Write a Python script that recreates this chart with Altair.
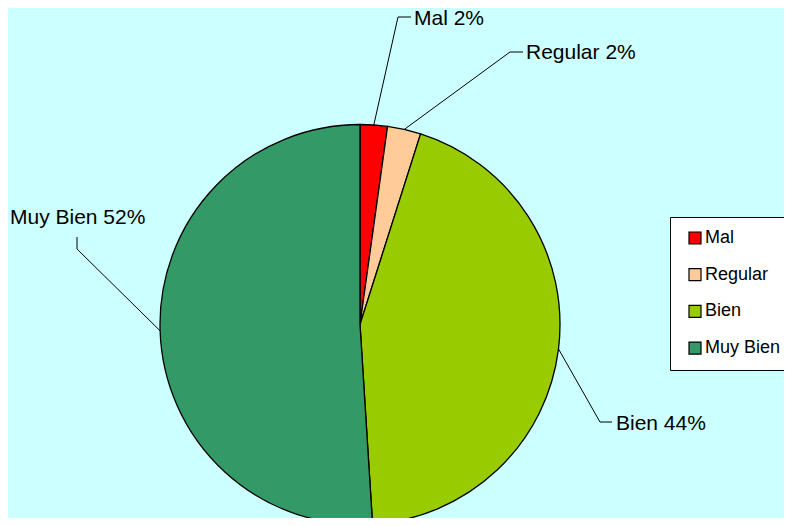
import math
import altair as alt
import pandas as pd

# ---- data ----
categories = ["Mal", "Regular", "Bien", "Muy Bien"]
values = [2.2, 2.7, 44.1, 51.0]
label_texts = ["Mal 2%", "Regular 2%", "Bien 44%", "Muy Bien 52%"]
colors = ["#FF0000", "#FFCC99", "#99CC00", "#339966"]

# ---- layout (chart pixel coords) ----
W, H = 776, 510
CX, CY, R = 352, 316.5, 200
elbows = [(390, 9), (502, 44), (592, 414), (69, 241)]
ends = [(403, 9), (515, 44), (604, 414), (69, 229)]
text_pos = [(406, 11), (518, 45), (608, 416), (2, 210)]

df = pd.DataFrame({"cat": categories, "val": values, "idx": range(len(categories))})

# leader lines: start on circle at slice mid-angle
total = sum(values)
rows = []
cum = 0.0
for i, (c, v) in enumerate(zip(categories, values)):
    mid = (cum + v / 2) / total * 2 * math.pi
    cum += v
    sx = CX + R * math.sin(mid)
    sy = CY - R * math.cos(mid)
    pts = [(sx, sy), elbows[i], ends[i]]
    for k, (px, py) in enumerate(pts):
        rows.append({"cat": c, "k": k, "px": px, "py": py})
lines_df = pd.DataFrame(rows)
text_df = pd.DataFrame({
    "t": label_texts,
    "px": [p[0] for p in text_pos],
    "py": [p[1] for p in text_pos],
})

xs = alt.Scale(domain=[0, W], range=[0, W])
ys = alt.Scale(domain=[0, H], range=[0, H])

pie = alt.Chart(df).mark_arc(radius=R, stroke="black", strokeWidth=1.3).encode(
    theta=alt.Theta("val:Q", stack=True),
    order=alt.Order("idx:Q"),
    color=alt.Color(
        "cat:N",
        scale=alt.Scale(domain=categories, range=colors),
        sort=categories,
        legend=alt.Legend(
            title=None,
            orient="none",
            legendX=662,
            legendY=209,
            padding=12,
            fillColor="white",
            strokeColor="black",
            symbolType="square",
            symbolSize=144,
            symbolOffset=4,
            symbolStrokeColor="black",
            symbolStrokeWidth=1.2,
            symbolOpacity=1,
            labelFontSize=18,
            labelFont="Liberation Sans",
            labelColor="black",
            labelOffset=1,
            rowPadding=18.7,
            labelLimit=200,
        ),
    ),
    x=alt.value(CX),
    y=alt.value(CY),
)

leaders = alt.Chart(lines_df).mark_line(color="black", strokeWidth=1).encode(
    x=alt.X("px:Q", scale=xs, axis=None),
    y=alt.Y("py:Q", scale=ys, axis=None),
    detail="cat:N",
    order="k:Q",
)

labels = alt.Chart(text_df).mark_text(
    align="left", baseline="middle", fontSize=21, font="Liberation Sans", color="black"
).encode(
    x=alt.X("px:Q", scale=xs, axis=None),
    y=alt.Y("py:Q", scale=ys, axis=None),
    text="t:N",
)

chart = alt.layer(pie, leaders, labels).properties(
    width=W, height=H, padding=0, background="#CCFFFF",
    autosize=alt.AutoSizeParams(type="none"),
).configure_view(stroke=None).resolve_scale(color="independent")

chart.save("out.html", embed_options={"renderer": "svg", "actions": False})
